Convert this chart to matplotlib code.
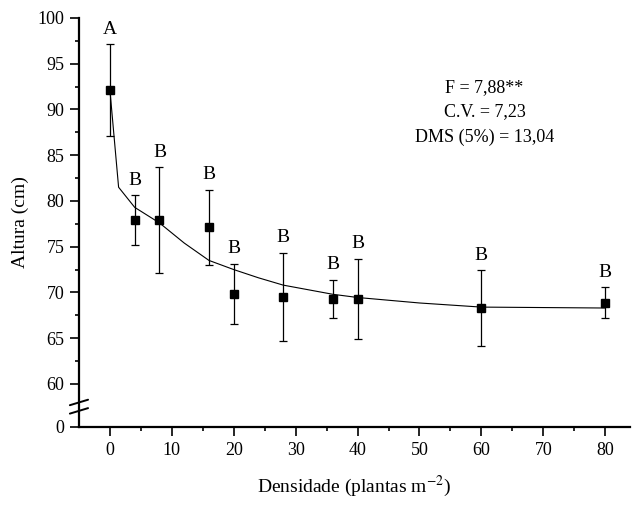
import matplotlib
matplotlib.use("Agg")
import matplotlib.pyplot as plt
import numpy as np

plt.rcParams['font.family'] = ['Liberation Serif', 'DejaVu Serif']
plt.rcParams['mathtext.fontset'] = 'stix'

# data
densidade = [0, 4, 8, 16, 20, 28, 36, 40, 60, 80]
altura = [92.1, 77.9, 77.9, 77.15, 69.85, 69.55, 69.3, 69.3, 68.25, 68.9]
erro = [5.0, 2.75, 5.8, 4.1, 3.3, 4.8, 2.1, 4.4, 4.15, 1.7]
letras = ['A', 'B', 'B', 'B', 'B', 'B', 'B', 'B', 'B', 'B']

# fitted curve, points
curva_x = [0, 1.4, 4, 8, 12, 16, 20, 24, 28, 32, 36, 40, 50, 60, 70, 80]
curva_y = [92.1, 81.5, 79.3, 77.6, 75.4, 73.5, 72.5, 71.6, 70.8, 70.3, 69.8,
           69.45, 68.85, 68.4, 68.35, 68.3]

ytick_vals = [55.3, 60, 65, 70, 75, 80, 85, 90, 95, 100]
ytick_labels = ['0', '60', '65', '70', '75', '80', '85', '90', '95', '100']
xtick_vals = [0, 10, 20, 30, 40, 50, 60, 70, 80]

stats = ['F = 7,88**', 'C.V. = 7,23', 'DMS (5%) = 13,04']
stats_y = [92.4, 89.75, 87.0]

fig = plt.figure(figsize=(6.41, 5.05), dpi=100)
ax = fig.add_axes([0.1232, 0.1545, 0.8596, 0.81])

ax.plot(curva_x, curva_y, color='black', linewidth=0.8)
ax.errorbar(densidade, altura, yerr=erro, fmt='s', color='black',
            markersize=6, ecolor='black', elinewidth=0.9, capsize=3,
            capthick=0.9)

for xi, yi, ei, l in zip(densidade, altura, erro, letras):
    ax.annotate(l, (xi, yi + ei), xytext=(0, 4.5), textcoords='offset points',
                ha='center', va='bottom', fontsize=14)

for s, sy in zip(stats, stats_y):
    ax.text(60.5, sy, s, ha='center', va='center', fontsize=13)

ax.set_xlim(-5, 84)
ax.set_ylim(55.3, 100)
ax.set_xticks(xtick_vals)
ax.set_xticks(np.arange(5, 84, 10), minor=True)
ax.set_yticks(ytick_vals)
ax.set_yticklabels(ytick_labels)
ax.set_yticks(np.arange(62.5, 100, 5), minor=True)

ax.spines['top'].set_visible(False)
ax.spines['right'].set_visible(False)
ax.spines['left'].set_linewidth(1.6)
ax.spines['bottom'].set_linewidth(1.6)
ax.tick_params(which='major', direction='out', length=6.5, width=1.2,
               labelsize=13, pad=4)
ax.tick_params(which='minor', direction='out', length=3, width=1.2)

# axis break marks
ax.plot([-0.01, 0.0], [57.52, 57.52], transform=ax.get_yaxis_transform(),
        color='white', linewidth=4, clip_on=False)
for yb in [57.06, 57.98]:
    ax.annotate('', xy=(0.0165, yb + 0.3), xycoords=('axes fraction', 'data'),
                xytext=(-0.0165, yb - 0.3), textcoords=('axes fraction', 'data'),
                arrowprops=dict(arrowstyle='-', color='black', lw=1.4,
                                shrinkA=0, shrinkB=0),
                annotation_clip=False)

ax.set_xlabel('Densidade (plantas m$^{-2}$)', fontsize=14, labelpad=11)
ax.set_ylabel('Altura (cm)', fontsize=14, labelpad=6)

fig.savefig('out.png', dpi=100)
